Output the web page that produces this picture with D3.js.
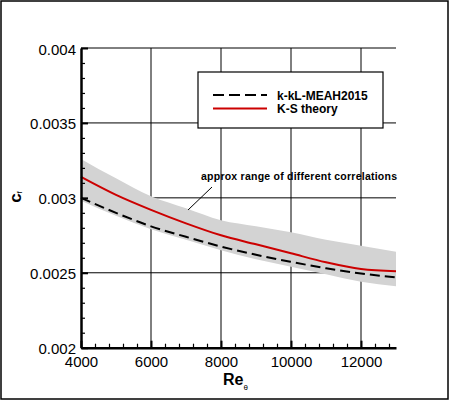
<!DOCTYPE html>
<html>
<head>
<meta charset="utf-8">
<script src="https://cdn.jsdelivr.net/npm/d3@7"></script>
<style>
  body { margin: 0; background: #fff; }
  svg { display: block; font-family: "Liberation Sans", Arial, Helvetica, sans-serif; }
</style>
</head>
<body>
<div id="chart"></div>
<script>
// values
const reTheta = [4000, 5000, 6000, 7000, 8000, 9000, 10000, 11000, 12000, 13000];
const kklMeah2015 = [0.00300, 0.00290, 0.00281, 0.00274, 0.002675, 0.00262, 0.002573, 0.00253, 0.002495, 0.00247];
const ksTheory = [0.00314, 0.00302, 0.00292, 0.00283, 0.00275, 0.00269, 0.00263, 0.00257, 0.002525, 0.00251];
const rangeUpper = [0.00326, 0.00313, 0.00301, 0.00293, 0.00285, 0.00281, 0.00277, 0.00272, 0.00268, 0.00264];
const rangeLower = [0.00298, 0.00288, 0.00279, 0.00272, 0.00265, 0.00259, 0.00254, 0.00249, 0.00244, 0.00241];

const xTicks = [4000, 6000, 8000, 10000, 12000];
const yTicks = [0.002, 0.0025, 0.003, 0.0035, 0.004];
const yTickLabels = ["0.002", "0.0025", "0.003", "0.0035", "0.004"];
const legendLabels = ["k-kL-MEAH2015", "K-S theory"];
const noteText = "approx range of different correlations";

const width = 450, height = 401;
const redColor = "#cc0000";

const svg = d3.select("#chart").append("svg")
  .attr("width", width)
  .attr("height", height);

// outer frame
svg.append("rect")
  .attr("x", 1).attr("y", 1)
  .attr("width", 447).attr("height", 398)
  .attr("fill", "white")
  .attr("stroke", "black")
  .attr("stroke-width", 1.5);

const x = d3.scaleLinear().domain([4000, 13000]).range([81, 396]);
const y = d3.scaleLinear().domain([0.002, 0.004]).range([347.7, 48]);

// grid lines
svg.append("g").selectAll("line")
  .data(xTicks.slice(1))
  .join("line")
  .attr("x1", d => x(d)).attr("x2", d => x(d))
  .attr("y1", y(0.002)).attr("y2", y(0.004))
  .attr("stroke", "black").attr("stroke-width", 1);

svg.append("g").selectAll("line")
  .data(yTicks.slice(1))
  .join("line")
  .attr("x1", x(4000)).attr("x2", x(13000))
  .attr("y1", d => y(d)).attr("y2", d => y(d))
  .attr("stroke", "black").attr("stroke-width", 1);

// grey band of correlations
const bandData = reTheta.map((r, i) => ({ r: r, lo: rangeLower[i], hi: rangeUpper[i] }));
svg.append("path")
  .datum(bandData)
  .attr("fill", "#d3d3d3")
  .attr("d", d3.area()
    .curve(d3.curveMonotoneX)
    .x(d => x(d.r))
    .y0(d => y(d.lo))
    .y1(d => y(d.hi)));

const line = d3.line().curve(d3.curveMonotoneX).x(d => x(d[0])).y(d => y(d[1]));

svg.append("path")
  .datum(reTheta.map((r, i) => [r, ksTheory[i]]))
  .attr("fill", "none")
  .attr("stroke", redColor)
  .attr("stroke-width", 2)
  .attr("d", line);

svg.append("path")
  .datum(reTheta.map((r, i) => [r, kklMeah2015[i]]))
  .attr("fill", "none")
  .attr("stroke", "black")
  .attr("stroke-width", 2)
  .attr("stroke-dasharray", "10,5")
  .attr("d", line);

// axes, ticks pointing into the plot
const minorX = d3.range(4000, 13001, 400).filter(v => v % 2000 !== 0);
const minorY = d3.range(0, 21).map(i => 0.002 + i * 0.0001).filter((v, i) => i % 5 !== 0);

const styleAxis = g => {
  g.select(".domain").attr("stroke-width", 2.5);
  g.selectAll(".tick line").attr("stroke-width", 2);
  g.selectAll("text").attr("font-size", 15).attr("fill", "black");
};

svg.append("g")
  .attr("transform", `translate(0,${y(0.002)})`)
  .call(d3.axisBottom(x).tickValues(minorX).tickSize(-4).tickSizeOuter(0).tickFormat(""))
  .call(g => g.select(".domain").remove())
  .call(g => g.selectAll(".tick line").attr("stroke-width", 1.2));

svg.append("g")
  .attr("transform", `translate(${x(4000)},0)`)
  .call(d3.axisLeft(y).tickValues(minorY).tickSize(-4).tickSizeOuter(0).tickFormat(""))
  .call(g => g.select(".domain").remove())
  .call(g => g.selectAll(".tick line").attr("stroke-width", 1.2));

svg.append("g")
  .attr("transform", `translate(0,${y(0.002)})`)
  .call(d3.axisBottom(x).tickValues(xTicks).tickSize(-7).tickSizeOuter(0).tickPadding(9).tickFormat(d3.format("d")))
  .call(styleAxis);

svg.append("g")
  .attr("transform", `translate(${x(4000)},0)`)
  .call(d3.axisLeft(y).tickValues(yTicks).tickSize(-7).tickSizeOuter(0).tickPadding(5)
    .tickFormat((d, i) => yTickLabels[i]))
  .call(styleAxis)
  .call(g => g.selectAll("text").attr("dy", "0.4em"));

// axis titles
const xTitle = svg.append("text")
  .attr("x", 223).attr("y", 385)
  .attr("font-size", 16).attr("font-weight", "bold");
xTitle.append("tspan").text("Re");
xTitle.append("tspan").attr("font-size", 8).attr("font-weight", "normal").attr("dy", 5).text("θ");

const yTitle = svg.append("text")
  .attr("transform", "translate(21,197) rotate(-90)")
  .attr("text-anchor", "middle")
  .attr("font-size", 17).attr("font-weight", "bold");
yTitle.append("tspan").text("c");
yTitle.append("tspan").attr("font-size", 8).attr("font-weight", "normal").attr("dy", 1).text("f");

// annotation with leader line
svg.append("line")
  .attr("x1", 212).attr("y1", 187)
  .attr("x2", 188).attr("y2", 210)
  .attr("stroke", "black").attr("stroke-width", 1);

svg.append("text")
  .attr("x", 201).attr("y", 180)
  .attr("font-size", 10.5)
  .attr("font-weight", "bold")
  .attr("textLength", 196)
  .attr("lengthAdjust", "spacing")
  .text(noteText);

// legend
const legend = svg.append("g");
legend.append("rect")
  .attr("x", 198).attr("y", 72)
  .attr("width", 185).attr("height", 56)
  .attr("fill", "white")
  .attr("stroke", "black").attr("stroke-width", 1.2);

const legendRows = [
  { label: legendLabels[0], color: "black", dash: "11,5", yLine: 95 },
  { label: legendLabels[1], color: redColor, dash: null, yLine: 108.5 }
];

legendRows.forEach(row => {
  legend.append("line")
    .attr("x1", 213).attr("x2", 267)
    .attr("y1", row.yLine).attr("y2", row.yLine)
    .attr("stroke", row.color)
    .attr("stroke-width", 2.2)
    .attr("stroke-dasharray", row.dash);
  legend.append("text")
    .attr("x", 277).attr("y", row.yLine + 4.5)
    .attr("font-size", 12).attr("font-weight", "bold")
    .text(row.label);
});
</script>
</body>
</html>
